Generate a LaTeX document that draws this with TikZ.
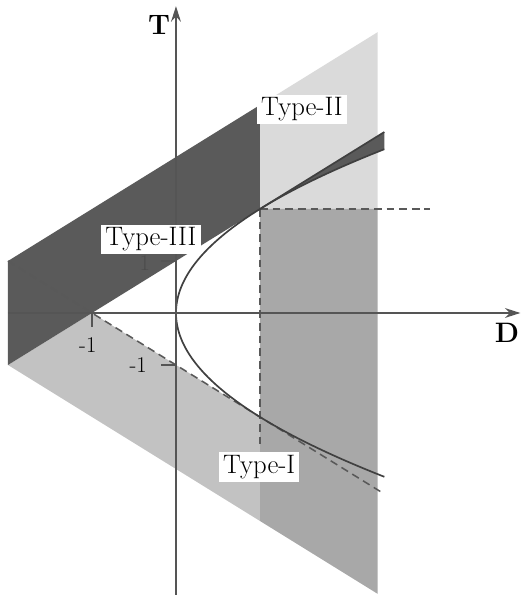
\documentclass[tikz,border=0pt]{standalone}
\usepackage{tikz}
\usetikzlibrary{arrows.meta,positioning,calc}
\definecolor{cDark}{RGB}{90,90,90}
\definecolor{cMed}{RGB}{168,168,168}
\definecolor{cLight}{RGB}{194,194,194}
\definecolor{cPale}{RGB}{218,218,218}
\definecolor{cAxis}{RGB}{85,85,85}
\tikzset{
  axisline/.style={line width=1.3pt,color=cAxis,-{Stealth[length=11pt,width=7pt]}},
  curveline/.style={line width=1.2pt,color=black!75},
  dashline/.style={line width=1.1pt,color=black!65,dash pattern=on 5.5pt off 3.5pt},
  tickline/.style={line width=1pt,color=cAxis},
  typelabel/.style={fill=white,inner xsep=3pt,inner ysep=2pt,font=\fontsize{19}{22}\selectfont},
  axislabel/.style={inner sep=0pt,font=\fontsize{20}{24}\selectfont\bfseries},
  ticklabel/.style={inner sep=0pt,font=\fontsize{16}{19}\selectfont}
}

\begin{document}
\begin{tikzpicture}[x=2.1cm,y=1.3cm]
  \useasboundingbox (-2.095,-5.577) rectangle (4.167,6.019);

  % regions
  \fill[cPale]  (1,2) -- (2.4,2) -- (2.4,5.4) -- (1,4) -- cycle;
  \fill[cMed]   (1,2) -- (2.4,2) -- (2.4,-5.4) -- (1,-4) -- cycle;
  \fill[cLight] (-2,-1) -- (-1,0) -- (1,-2) -- (1,-4) -- cycle;
  \fill[cDark]  (-2,-1) -- (1,2) -- (1,4) -- (-2,1) -- cycle;
  \fill[cDark]  (1,2) -- (2.48,3.48) -- (2.48,3.15)
      -- plot[domain=3.15:2,samples=30] ({\x*\x/4},\x) -- cycle;

  \coordinate (o) at (0,0);
  \coordinate (dstart) at (-2,0);
  \coordinate (dend) at (4.1,0);
  \coordinate (tstart) at (0,-5.42);
  \coordinate (tend) at (0,5.9);
  \coordinate (tanup) at (1,2);
  \coordinate (tanlow) at (1,-2);
  \coordinate (upend) at (2.48,3.48);
  \coordinate (dashleft) at (-2,1);
  \coordinate (dashright) at (2.48,-3.48);
  \coordinate (hend) at (3.02,2);
  \coordinate (vend) at (1,-2.6);

  % lines
  \draw[dashline] (dashleft) -- (dashright);
  \draw[dashline] (tanup) -- (hend);
  \draw[dashline] (tanup) -- (vend);
  \draw[curveline] (tanup) -- (upend);
  \draw[curveline] plot[domain=-3.15:3.15,samples=90,smooth] ({\x*\x/4},\x);

  % axes
  \draw[axisline] (dstart) -- (dend);
  \draw[axisline] (tstart) -- (tend);
  \draw[tickline] (-1,0) -- (-1,-0.27);
  \draw[tickline] (0,-1) -- (-0.18,-1);
  \draw[tickline] (0,1) -- (-0.18,1);

  \node[axislabel] (tlab) at (-0.2,5.54) {T};
  \node[axislabel] (dlab) at (3.94,-0.385) {D};
  \node[ticklabel] (dm1) at (-1.05,-0.62) {-1};
  \node[ticklabel] (tm1) at (-0.45,-1) {-1};
  \node[ticklabel,color=black!70] (tp1) at (-0.37,0.96) {1};

  \node[typelabel] (type2) at (1.5,3.92) {Type-II};
  \node[typelabel] (type3) at (-0.3,1.42) {Type-III};
  \node[typelabel] (type1) at (0.99,-2.96) {Type-I};
\end{tikzpicture}
\end{document}
